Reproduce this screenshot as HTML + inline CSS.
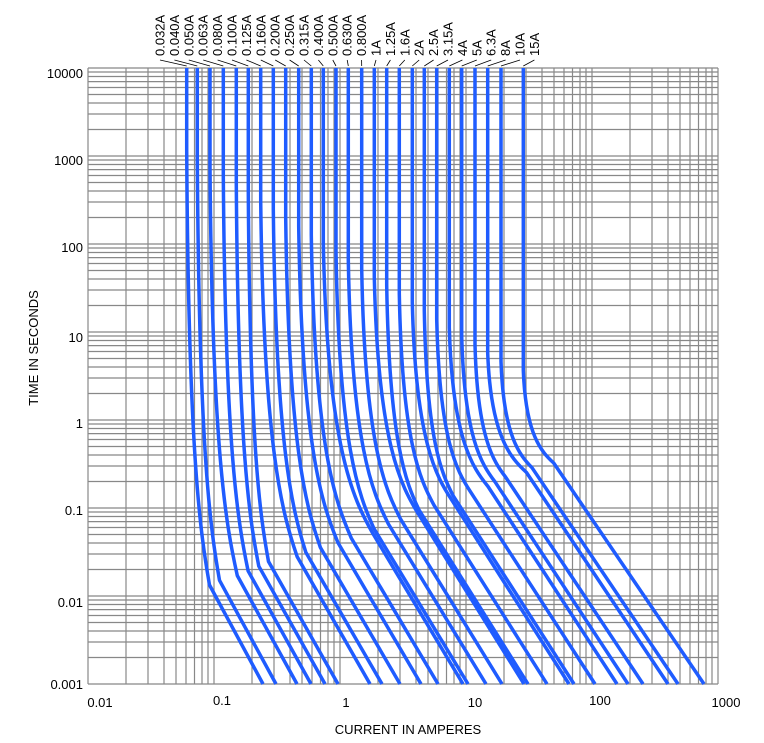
<!DOCTYPE html>
<html><head><meta charset="utf-8"><style>
html,body{margin:0;padding:0;background:#fff}
svg{display:block;font-family:"Liberation Sans",sans-serif}
</style></head><body>
<svg width="764" height="743" viewBox="0 0 764 743" xmlns="http://www.w3.org/2000/svg">
<g stroke="#888" stroke-width="1.2" fill="none">
<path d="M88 68V684M126 68V684M148 68V684M164 68V684M176 68V684M186 68V684M194.5 68V684M202 68V684M208 68V684
M214 68V684M252 68V684M274 68V684M290 68V684M302 68V684M312 68V684M320.5 68V684M328 68V684M334 68V684
M340 68V684M378 68V684M400 68V684M416 68V684M428 68V684M438 68V684M446.5 68V684M454 68V684M460 68V684
M466 68V684M504 68V684M526 68V684M542 68V684M554 68V684M564 68V684M572.5 68V684M580 68V684M586 68V684
M592 68V684M630 68V684M652 68V684M668 68V684M680 68V684M690 68V684M698.5 68V684M706 68V684M712 68V684M718 68V684"/>
<path d="M88 68H718M88 72H718M88 76.5H718M88 81.6H718M88 87.5H718M88 94.5H718M88 103H718M88 114H718M88 129.5H718
M88 156H718M88 160H718M88 164.5H718M88 169.6H718M88 175.5H718M88 182.5H718M88 191H718M88 202H718M88 217.5H718
M88 244H718M88 248H718M88 252.5H718M88 257.6H718M88 263.5H718M88 270.5H718M88 279H718M88 290H718M88 305.5H718
M88 332H718M88 336H718M88 340.5H718M88 345.6H718M88 351.5H718M88 358.5H718M88 367H718M88 378H718M88 393.5H718
M88 420H718M88 424H718M88 428.5H718M88 433.6H718M88 439.5H718M88 446.5H718M88 455H718M88 466H718M88 481.5H718
M88 508H718M88 512H718M88 516.5H718M88 521.6H718M88 527.5H718M88 534.5H718M88 543H718M88 554H718M88 569.5H718
M88 596H718M88 600H718M88 604.5H718M88 609.6H718M88 615.5H718M88 622.5H718M88 631H718M88 642H718M88 657.5H718M88 684H718"/>
</g>
<g stroke="#1f5cff" stroke-width="3.5" fill="none" stroke-linejoin="round">
<path d="M186.7 68L186.7 150C188.5 454.5 200.4 532.8 209.5 585L263 684"/>
<path d="M197.3 68L197.3 158.5C199.1 453.8 210.6 529.7 219.5 580.3L276 684"/>
<path d="M210 68L210 166.9C212.2 453.1 226.4 526.5 237.3 575.6L297 684"/>
<path d="M223.3 68L223.3 175.4C225.3 452.3 238.2 523.4 248.1 570.9L311 684"/>
<path d="M236.3 68L236.3 183.8C238.1 451.5 249.8 520.3 258.8 566.2L325 684"/>
<path d="M248.3 68L248.3 192.3C249.9 450.7 260.4 517.2 268.5 561.5L338 684"/>
<path d="M260.7 68L260.7 200.8C263.6 450 282.6 514.1 297.2 556.8L370 684"/>
<path d="M273.3 68L273.3 209.2C275.9 449.2 292.8 511.1 305.8 552.2L382 684"/>
<path d="M285.7 68L285.7 217.7C288.5 448.8 306.5 507.9 320.4 547.5L400 684"/>
<path d="M298.7 68L298.7 226.2C301.8 448.2 322.3 504.8 338 542.8L421 684"/>
<path d="M311.3 68L311.3 234.6C314.5 447.2 335.3 501.7 351.3 538.1L438 684"/>
<path d="M323.3 68L323.3 243.1C327.3 446.3 353 498.6 372.8 533.4L463 684"/>
<path d="M336 68L336 251.5C339 445.5 358.8 495.4 374 528.7L468 684"/>
<path d="M348.3 68L348.3 260C351.5 444.8 372.4 492.3 388.4 524L486 684"/>
<path d="M361.7 68L361.7 268.5C364.8 444.1 385.1 489.2 400.7 519.3L502 684"/>
<path d="M374.3 68L374.3 276.9C377.9 443.2 401 486.1 418.8 514.6L524 684"/>
<path d="M386.7 68L386.7 285.4C389.3 442.5 406.1 483 419 509.9L528 684"/>
<path d="M399.3 68L399.3 293.8C402.1 441.8 420.1 479.8 434 505.2L547 684"/>
<path d="M412.3 68L412.3 302.3C415.5 441 436.2 476.7 452.1 500.5L569 684"/>
<path d="M424.3 68L424.3 310.8C426.6 440.3 441.6 473.6 453.2 495.8L574 684"/>
<path d="M436.7 68L436.7 319.2C439.4 439.6 456.7 470.6 470.1 491.2L595 684"/>
<path d="M449.3 68L449.3 327.7C452.4 438.9 472.5 467.4 488 486.5L617 684"/>
<path d="M461.7 68L461.7 336.2C464.4 438.3 481.7 464.3 495 481.8L628 684"/>
<path d="M475 68L475 344.6C477.4 437.4 493.4 461.2 505.6 477.1L643 684"/>
<path d="M487.7 68L487.7 353.1C490.8 436.6 510.9 458.1 526.4 472.4L668 684"/>
<path d="M501 68L501 361.5C503.5 435.8 519.6 455 532 467.7L678 684"/>
<path d="M523.3 68L523.3 370C525.7 435.1 541.5 451.8 553.7 463L704 684"/>
</g>
<g stroke="#000" stroke-width="0.8">
<path d="M160 60L186.7 66M174.4 60L197.3 66M188.8 60L210 66M203.2 60L223.3 66M217.6 60L236.3 66M232 60L248.3 66M246.4 60L260.7 66M260.8 60L273.3 66M275.2 60L285.7 66M289.6 60L298.7 66M304 60L311.3 66M318.4 60L323.3 66M332.8 60L336 66M347.2 60L348.3 66M361.6 60L361.7 66M376 60L374.3 66M390.4 60L386.7 66M404.8 60L399.3 66M419.2 60L412.3 66M433.6 60L424.3 66M448 60L436.7 66M462.4 60L449.3 66M476.8 60L461.7 66M491.2 60L475 66M505.6 60L487.7 66M520 60L501 66M534.4 60L523.3 66"/>
</g>
<g font-size="13" fill="#000">
<text transform="translate(164.5,56) rotate(-90)">0.032A</text>
<text transform="translate(178.9,56) rotate(-90)">0.040A</text>
<text transform="translate(193.3,56) rotate(-90)">0.050A</text>
<text transform="translate(207.7,56) rotate(-90)">0.063A</text>
<text transform="translate(222.1,56) rotate(-90)">0.080A</text>
<text transform="translate(236.5,56) rotate(-90)">0.100A</text>
<text transform="translate(250.9,56) rotate(-90)">0.125A</text>
<text transform="translate(265.3,56) rotate(-90)">0.160A</text>
<text transform="translate(279.7,56) rotate(-90)">0.200A</text>
<text transform="translate(294.1,56) rotate(-90)">0.250A</text>
<text transform="translate(308.5,56) rotate(-90)">0.315A</text>
<text transform="translate(322.9,56) rotate(-90)">0.400A</text>
<text transform="translate(337.3,56) rotate(-90)">0.500A</text>
<text transform="translate(351.7,56) rotate(-90)">0.630A</text>
<text transform="translate(366.1,56) rotate(-90)">0.800A</text>
<text transform="translate(380.5,56) rotate(-90)">1A</text>
<text transform="translate(394.9,56) rotate(-90)">1.25A</text>
<text transform="translate(409.3,56) rotate(-90)">1.6A</text>
<text transform="translate(423.7,56) rotate(-90)">2A</text>
<text transform="translate(438.1,56) rotate(-90)">2.5A</text>
<text transform="translate(452.5,56) rotate(-90)">3.15A</text>
<text transform="translate(466.9,56) rotate(-90)">4A</text>
<text transform="translate(481.3,56) rotate(-90)">5A</text>
<text transform="translate(495.7,56) rotate(-90)">6.3A</text>
<text transform="translate(510.1,56) rotate(-90)">8A</text>
<text transform="translate(524.5,56) rotate(-90)">10A</text>
<text transform="translate(538.9,56) rotate(-90)">15A</text>
</g>
<g font-size="13" fill="#000" text-anchor="end">
<text x="83" y="78">10000</text>
<text x="83" y="165">1000</text>
<text x="83" y="252">100</text>
<text x="83" y="342">10</text>
<text x="83" y="428">1</text>
<text x="83" y="515">0.1</text>
<text x="83" y="607">0.01</text>
<text x="83" y="689">0.001</text>
</g>
<g font-size="13" fill="#000" text-anchor="middle">
<text x="100" y="707">0.01</text>
<text x="222" y="705">0.1</text>
<text x="346" y="707">1</text>
<text x="475" y="707">10</text>
<text x="600" y="705">100</text>
<text x="726" y="707">1000</text>
<text x="408" y="734">CURRENT IN AMPERES</text>
<text transform="translate(38,348) rotate(-90)">TIME IN SECONDS</text>
</g>
</svg>
</body></html>
